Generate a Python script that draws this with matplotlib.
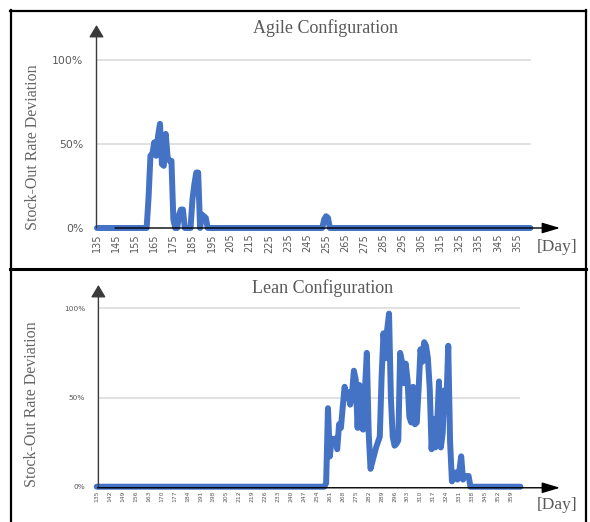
import matplotlib
matplotlib.use("Agg")
import matplotlib.pyplot as plt
from matplotlib.lines import Line2D

W, H = 590, 522

BLUE = "#4472C4"
TXT = "#595959"
GRID = "#D9D9D9"
SERIF = ["Liberation Serif", "DejaVu Serif"]

# ====== Agile configuration (day -> stock-out deviation %) ======
agile_days = [135, 161, 162, 163, 164, 165, 166, 167, 168, 169, 170, 171, 172,
              173, 174, 175, 176, 177, 178, 179, 180, 181,
              184, 185, 186, 187, 188, 189, 190, 191, 192, 193,
              253, 254, 255, 256, 257, 362]
agile_vals = [0, 0, 18, 43, 44, 51, 43, 55, 62, 38, 37, 56, 42,
              40, 40, 5, 0, 0, 8, 11, 11, 0,
              0, 17, 26, 33, 33, 0, 8, 7, 6, 0,
              0, 5, 7, 6, 0, 0]
agile_ticks = [135, 145, 155, 165, 175, 185, 195, 205, 215, 225, 235, 245,
               255, 265, 275, 285, 295, 305, 315, 325, 335, 345, 355]

# ====== Lean configuration ======
lean_days = [135, 258,
             259, 260, 261, 262, 263, 264, 265, 266, 267, 268,
             269, 270, 271, 272, 273, 274, 275, 276, 277, 278,
             279, 280, 281, 282, 283, 284, 285, 286, 287, 288,
             289, 290, 291, 292, 293, 294, 295, 296, 297, 298,
             299, 300, 301, 302, 303, 304, 305, 306, 307, 308,
             309, 310, 311, 312, 313, 314, 315, 316, 317, 318,
             319, 320, 321, 322, 323, 324, 325, 326, 327, 328,
             329, 330, 331, 332, 333, 334, 335, 336, 337, 364]
lean_vals = [0, 0,
             2, 44, 17, 27, 26, 27, 21, 35, 33, 45,
             56, 50, 53, 46, 52, 65, 60, 33, 57, 33,
             32, 55, 75, 30, 10, 14, 18, 22, 25, 28,
             62, 86, 72, 88, 97, 50, 28, 23, 24, 26,
             75, 70, 58, 69, 60, 39, 36, 56, 35, 36,
             55, 77, 70, 81, 79, 72, 55, 21, 38, 22,
             35, 59, 22, 30, 54, 47, 79, 25, 3, 5,
             8, 4, 9, 17, 4, 6, 6, 6, 0, 0]
lean_ticks = [135, 142, 149, 156, 163, 170, 177, 184, 191, 198, 205, 212,
              219, 226, 233, 240, 247, 254, 261, 268, 275, 282, 289, 296,
              303, 310, 317, 324, 331, 338, 345, 352, 359]

y_ticks = [0, 50, 100]
y_labels = ["0%", "50%", "100%"]


def fx(px):
    return px / W


def fy(py):
    return 1 - py / H


def panel(fig, days, vals, ticks, title, title_xy, ylab_xy, day_xy, geo, sizes):
    # geo: pixel geometry of the panel
    x135, ppd, y0, ppp, L, R, T, B, grid_end, arrow_start, arrow_off = geo
    xt_size, yt_size, yt_pad = sizes

    def day(px):
        return 135 + (px - x135) / ppd

    def val(py):
        return (y0 - py) / ppp

    ax = fig.add_axes([fx(L), fy(B), (R - L) / W, (B - T) / H])
    ax.set_xlim(day(L), day(R))
    ax.set_ylim(val(B), val(T))
    for s in ax.spines.values():
        s.set_visible(False)
    ax.patch.set_alpha(0)

    ax.hlines([50, 100], day(L), grid_end, color=GRID, lw=1.1, zorder=1)
    ax.plot(days, vals, color=BLUE, lw=4.3, solid_joinstyle="round",
            solid_capstyle="round", clip_on=False, zorder=3)

    ax.annotate("", xy=(day(R), arrow_off), xytext=(arrow_start, arrow_off),
                arrowprops=dict(arrowstyle="-|>,head_length=1.1,head_width=0.33",
                                color="black", lw=1.0, shrinkA=0, shrinkB=0,
                                mutation_scale=10),
                annotation_clip=False, zorder=4)
    ax.annotate("", xy=(day(L), val(T)), xytext=(day(L), 0),
                arrowprops=dict(arrowstyle="-|>,head_length=0.75,head_width=0.45",
                                color="#3A3A3A", lw=1.0, shrinkA=0, shrinkB=0,
                                mutation_scale=10),
                annotation_clip=False, zorder=4)

    ax.set_xticks(ticks)
    ax.set_xticklabels([str(t) for t in ticks], rotation=90)
    ax.set_yticks(y_ticks)
    ax.set_yticklabels(y_labels)
    ax.tick_params(axis="x", length=0, pad=2, labelsize=xt_size, labelcolor=TXT)
    ax.tick_params(axis="y", length=0, pad=yt_pad, labelsize=yt_size, labelcolor=TXT)

    fig.text(fx(title_xy[0]), fy(title_xy[1]), title, ha="center", va="center",
             family=SERIF, fontsize=13, color=TXT)
    fig.text(fx(ylab_xy[0]), fy(ylab_xy[1]), "Stock-Out Rate Deviation",
             ha="center", va="center", rotation=90, family=SERIF,
             fontsize=11.5, color="#666666")
    fig.text(fx(day_xy[0]), fy(day_xy[1]), "[Day]", ha="center", va="center",
             family=SERIF, fontsize=12.5, color=TXT)
    return ax


fig = plt.figure(figsize=(W / 100, H / 100), dpi=100)

panel(fig, agile_days, agile_vals, agile_ticks, "Agile Configuration",
      (326, 28), (33, 147), (557, 247),
      (97, 1.909, 228, 1.68, 96.5, 560, 25, 231, 362.2, 144.5, 0),
      (7, 7.8, 9.4))

panel(fig, lean_days, lean_vals, lean_ticks, "Lean Configuration",
      (323, 288), (32, 404), (557, 505),
      (95, 1.857, 486.7, 1.784, 96.7, 560, 285, 488, 364.0, 135.5, -0.6),
      (4.3, 5.3, 8.4))

# outer frame and separator
for (x0, y0_, x1, y1, lw) in [(10.5, 10, 10.5, 522, 1.6),
                              (10, 10.5, 586, 10.5, 1.6),
                              (585.5, 10, 585.5, 522, 1.6),
                              (10, 268.5, 586, 268.5, 2.2)]:
    fig.add_artist(Line2D([fx(x0), fx(x1)], [fy(y0_), fy(y1)], color="black",
                          lw=lw, transform=fig.transFigure))

fig.savefig("out.png", dpi=100)
